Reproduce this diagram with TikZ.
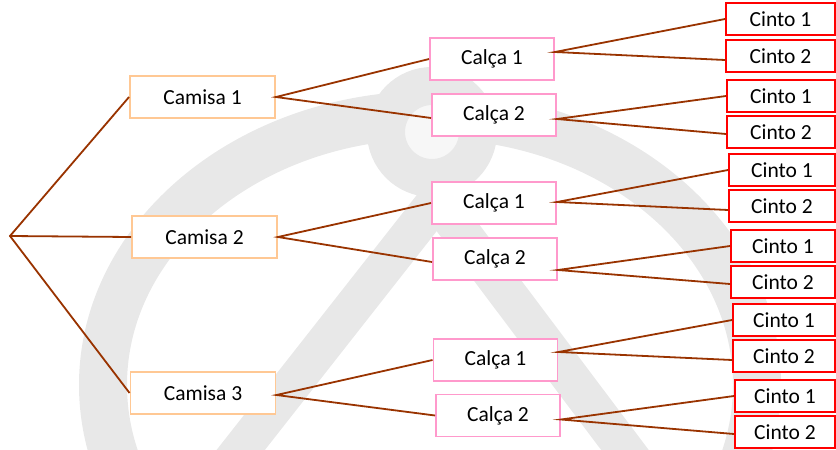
\documentclass[tikz,border=0pt]{standalone}
\usepackage{fontspec}
\setmainfont{Carlito}
\definecolor{camisaC}{HTML}{FFC894}
\definecolor{calcaC}{HTML}{FF99CC}
\definecolor{cintoC}{HTML}{FF0000}
\definecolor{lineC}{HTML}{993300}
\definecolor{wmC}{HTML}{E8E8E8}
\tikzset{
  box/.style={draw, line width=1.9pt, inner sep=0pt, fill=white, text=black,
    font=\fontsize{21.5}{25}\selectfont},
  camisa/.style={box, draw=camisaC, minimum width=145pt, minimum height=42pt},
  calca/.style={box, draw=calcaC, minimum width=124pt, minimum height=42pt},
  cinto/.style={box, draw=cintoC, minimum height=32pt},
  conn/.style={draw=lineC, line width=1.8pt},
  wm/.style={draw=wmC}
}
\begin{document}
\begin{tikzpicture}[x=1pt,y=-1pt]
\useasboundingbox (0,0) rectangle (836,450);
% watermark
\draw[wm, line width=48pt] (430,385) ellipse [x radius=327pt, y radius=270pt];
\draw[wm, line width=38pt] (437,200) -- (225,470);
\draw[wm, line width=38pt] (437,200) -- (640,470);
\draw[wm, line width=38pt, fill=black!3] (432,132) circle [radius=46pt];
% root
\coordinate (r) at (10,236);
% camisas
\node[camisa] (m1) at (202.5,97) {Camisa 1};
\node[camisa] (m2) at (204.5,237) {Camisa 2};
\node[camisa] (m3) at (203,393) {Camisa 3};
% calcas
\node[calca] (c1a) at (492,59) {Calça 1};
\node[calca] (c1b) at (494,115) {Calça 2};
\node[calca] (c2a) at (494,203) {Calça 1};
\node[calca] (c2b) at (495,259) {Calça 2};
\node[calca] (c3a) at (495.5,360) {Calça 1};
\node[calca] (c3b) at (498,415.5) {Calça 2};
% cintos
\node[cinto, minimum width=109pt] (t1a) at (780.5,19) {Cinto 1};
\node[cinto, minimum width=109pt] (t1b) at (780.5,56) {Cinto 2};
\node[cinto, minimum width=108pt] (t2a) at (781,96) {Cinto 1};
\node[cinto, minimum width=108pt] (t2b) at (781,132) {Cinto 2};
\node[cinto, minimum width=106pt] (t3a) at (782,170) {Cinto 1};
\node[cinto, minimum width=106pt] (t3b) at (782,206) {Cinto 2};
\node[cinto, minimum width=104pt] (t4a) at (783,246) {Cinto 1};
\node[cinto, minimum width=104pt] (t4b) at (783,282) {Cinto 2};
\node[cinto, minimum width=102pt] (t5a) at (784,320) {Cinto 1};
\node[cinto, minimum width=102pt] (t5b) at (784,356) {Cinto 2};
\node[cinto, minimum width=100pt] (t6a) at (785,396) {Cinto 1};
\node[cinto, minimum width=100pt] (t6b) at (785,432) {Cinto 2};
% connectors
\draw[conn] (m1.west) -- (r) -- (m3.west);
\draw[conn] (r) -- (m2.west);
\draw[conn] (c1a.west) -- (m1.east) -- ([yshift=-3pt]c1b.west);
\draw[conn] (c2a.west) -- (m2.east) -- ([yshift=-3pt]c2b.west);
\draw[conn] (c3a.west) -- ([yshift=-2pt]m3.east) -- (c3b.west);
\draw[conn] (t1a.west) -- ([yshift=7pt]c1a.east) -- ([yshift=-4pt]t1b.west);
\draw[conn] (t2a.west) -- ([yshift=-4pt]c1b.east) -- ([yshift=-2pt]t2b.west);
\draw[conn] (t3a.west) -- ([yshift=1pt]c2a.east) -- ([yshift=-4pt]t3b.west);
\draw[conn] (t4a.west) -- ([yshift=-11pt]c2b.east) -- ([yshift=-2pt]t4b.west);
\draw[conn] (t5a.west) -- ([yshift=8pt]c3a.east) -- ([yshift=-4pt]t5b.west);
\draw[conn] (t6a.west) -- ([yshift=-4pt]c3b.east) -- ([yshift=-2pt]t6b.west);
\end{tikzpicture}
\end{document}
